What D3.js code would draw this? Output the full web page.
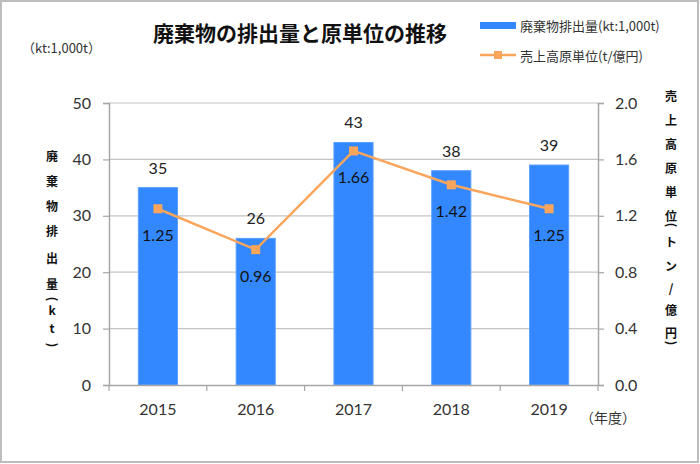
<!DOCTYPE html>
<html><head><meta charset="utf-8">
<script src="https://cdn.jsdelivr.net/npm/d3@7"></script>
<style>
html,body{margin:0;padding:0;background:#fff;}
svg{display:block;}
</style></head>
<body>
<svg id="chart" width="700" height="464"></svg>
<script>
const years = ["2015","2016","2017","2018","2019"];
const waste = [35, 26, 43, 38, 39];
const intensity = [1.25, 0.96, 1.66, 1.42, 1.25];
const leftTicks = [0, 10, 20, 30, 40, 50];
const rightTicks = [0, 0.4, 0.8, 1.2, 1.6, 2.0];
const title = "廃棄物の排出量と原単位の推移";
const unitLabel = "（kt:1,000t）";
const legendBar = "廃棄物排出量(kt:1,000t)";
const legendLine = "売上高原単位(t/億円)";
const leftTitle = ["廃","棄","物","排","出","量","（","k","t","）"];
const rightTitle = ["売","上","高","原","単","位","（","ト","ン","/","億","円","）"];
const xUnit = "（年度）";

const svg = d3.select("#chart");
const jp = "'Noto Sans CJK JP', 'Noto Sans', sans-serif";
const num = "Lato, 'Open Sans', sans-serif";
const blue = "#3388FF", orange = "#F9A55C";

// border
svg.append("rect").attr("x",1).attr("y",1).attr("width",697).attr("height",461)
  .attr("fill","#fff").attr("stroke","#bdbdbd").attr("stroke-width",2);

const m = {left:109, right:598, top:103, bottom:385};
const x = d3.scaleBand().domain(years).range([m.left, m.right]).paddingInner(0.6).paddingOuter(0.3);
const xb = d3.scaleBand().domain(years).range([m.left, m.right]);
const yL = d3.scaleLinear().domain([0,50]).range([m.bottom, m.top]);
const yR = d3.scaleLinear().domain([0,2]).range([m.bottom, m.top]);

// gridlines
svg.append("g").selectAll("line").data(leftTicks.slice(1)).join("line")
  .attr("x1",m.left).attr("x2",m.right).attr("y1",d=>yL(d)).attr("y2",d=>yL(d))
  .attr("stroke","#c4c4c4").attr("stroke-width",1.2);

// bars
svg.append("g").selectAll("rect").data(waste).join("rect")
  .attr("x",(d,i)=>x(years[i])).attr("width",x.bandwidth())
  .attr("y",d=>yL(d)).attr("height",d=>yL(0)-yL(d))
  .attr("fill",blue).attr("stroke","#5aa0ff").attr("stroke-width",1);

// axes
const axisColor = "#a6a6a6";
const gl = svg.append("g").attr("transform",`translate(${m.left},0)`)
  .call(d3.axisLeft(yL).tickValues(leftTicks).tickSize(6).tickPadding(12).tickFormat(d3.format("d")));
const gr = svg.append("g").attr("transform",`translate(${m.right},0)`)
  .call(d3.axisRight(yR).tickValues(rightTicks).tickSize(6).tickPadding(11).tickFormat(d3.format(".1f")));
const gx = svg.append("g").attr("transform",`translate(0,${m.bottom})`)
  .call(d3.axisBottom(xb).tickSize(0).tickPadding(19));
svg.append("g").selectAll("line").data(years.concat(["end"])).join("line")
  .attr("x1",(d,i)=> i<years.length ? xb(d) : m.right)
  .attr("x2",(d,i)=> i<years.length ? xb(d) : m.right)
  .attr("y1",m.bottom).attr("y2",m.bottom+6).attr("stroke",axisColor).attr("stroke-width",1.2);
[gl,gr,gx].forEach(g=>{
  g.selectAll("path.domain").attr("stroke",axisColor).attr("stroke-width",1.5);
  g.selectAll(".tick line").attr("stroke",axisColor).attr("stroke-width",1.2);
  g.selectAll("text").attr("font-family",num).attr("font-size",16).attr("fill","#333");
});
gx.select("path.domain").attr("d",`M${m.left},0.5H${m.right}`);

// line
const line = d3.line().x((d,i)=>x(years[i])+x.bandwidth()/2).y(d=>yR(d));
svg.append("path").datum(intensity).attr("d",line)
  .attr("fill","none").attr("stroke",orange).attr("stroke-width",2.5);
svg.append("g").selectAll("rect").data(intensity).join("rect")
  .attr("x",(d,i)=>x(years[i])+x.bandwidth()/2-4.5).attr("y",d=>yR(d)-4.5)
  .attr("width",9).attr("height",9).attr("fill",orange);

// labels
svg.append("g").selectAll("text").data(waste).join("text")
  .attr("x",(d,i)=>x(years[i])+x.bandwidth()/2).attr("y",d=>yL(d)-14)
  .attr("text-anchor","middle").attr("font-family",num).attr("font-size",16).attr("fill","#222")
  .text(d=>d);
svg.append("g").selectAll("text").data(intensity).join("text")
  .attr("x",(d,i)=>x(years[i])+x.bandwidth()/2).attr("y",d=>yR(d)+32)
  .attr("text-anchor","middle").attr("font-family",num).attr("font-size",16).attr("fill","#111")
  .text(d=>d3.format(".2f")(d));

// title
svg.append("text").attr("x",300).attr("y",41).attr("text-anchor","middle")
  .attr("font-family",jp).attr("font-weight","bold").attr("font-size",21).attr("fill","#111").text(title);
svg.append("text").attr("x",22).attr("y",53).attr("font-family",jp).attr("font-size",13)
  .attr("fill","#333").text(unitLabel);

// legend
svg.append("rect").attr("x",480).attr("y",22).attr("width",36).attr("height",7).attr("fill",blue);
svg.append("text").attr("x",520).attr("y",31).attr("font-family",jp).attr("font-size",13)
  .attr("fill","#333").text(legendBar);
svg.append("line").attr("x1",480).attr("x2",516).attr("y1",55).attr("y2",55)
  .attr("stroke",orange).attr("stroke-width",2.5);
svg.append("rect").attr("x",494).attr("y",51).attr("width",8).attr("height",8).attr("fill",orange);
svg.append("text").attr("x",520).attr("y",61).attr("font-family",jp).attr("font-size",13)
  .attr("fill","#333").text(legendLine);

// vertical axis titles
function vtitle(chars, cx, ys){
  svg.append("g").selectAll("text").data(chars).join("text")
    .attr("x",cx).attr("y",(d,i)=>ys[i]).attr("dy","0.35em").attr("text-anchor","middle")
    .attr("font-family",jp).attr("font-weight","bold").attr("font-size",12).attr("fill","#111")
    .attr("transform",(d,i)=> (d==="（"||d==="）") ? `rotate(90,${cx},${ys[i]})` : null)
    .text(d=> d==="（" ? "(" : d==="）" ? ")" : d);
}
vtitle(leftTitle, 52, [157,182,207,232,259,285,299,311,329,345]);
vtitle(rightTitle, 671, [97,121,145,169,193,217,225,243,267,289,311,334,343]);

svg.append("text").attr("x",580).attr("y",423).attr("font-family",jp).attr("font-size",14)
  .attr("fill","#333").text(xUnit);
</script>
</body></html>
